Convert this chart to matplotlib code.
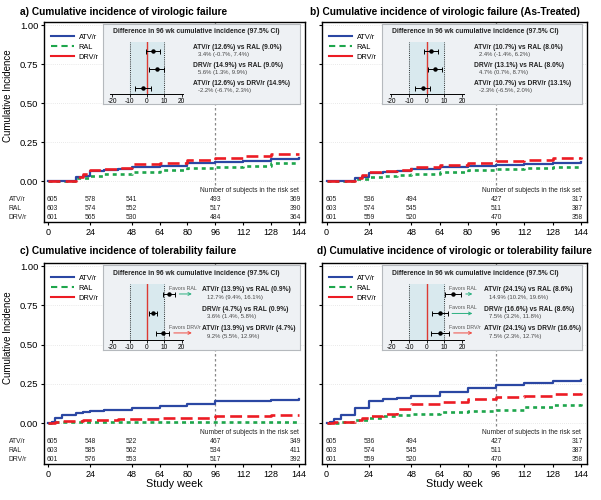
import numpy as np
import matplotlib
matplotlib.use("Agg")
import matplotlib.pyplot as plt
import matplotlib.transforms as mtransforms
from matplotlib.lines import Line2D

plt.rcParams['font.family'] = ['Liberation Sans', 'DejaVu Sans']
plt.rcParams['axes.unicode_minus'] = False

ARMS = ["ATV/r", "RAL", "DRV/r"]
STEP_WEEKS = [0, 2, 4, 8, 16, 20, 24, 32, 40, 48, 64, 80, 96, 112, 128, 144]
X_TICKS = [0, 24, 48, 64, 80, 96, 112, 128, 144]
Y_TICKS = [0.0, 0.25, 0.5, 0.75, 1.0]
RISK_WEEKS = [0, 24, 48, 96, 144]

# a) virologic failure
A_ATV = [0, 0, 0, 0, 0.030, 0.035, 0.065, 0.070, 0.078, 0.090, 0.100, 0.115, 0.126, 0.130, 0.145, 0.148]
A_RAL = [0, 0, 0, 0, 0.020, 0.022, 0.035, 0.045, 0.050, 0.060, 0.070, 0.085, 0.090, 0.100, 0.115, 0.120]
A_DRV = [0, 0, 0, 0, 0.030, 0.045, 0.070, 0.079, 0.086, 0.110, 0.118, 0.135, 0.149, 0.160, 0.175, 0.178]
A_RISK = [[605, 578, 541, 493, 369], [603, 574, 552, 517, 390], [601, 565, 530, 484, 364]]
A_COMPARE = ["ATV/r (12.6%) vs RAL (9.0%)", "DRV/r (14.9%) vs RAL (9.0%)", "ATV/r (12.6%) vs DRV/r (14.9%)"]
A_EST = [3.4, 5.6, -2.2]
A_LO = [-0.7, 1.3, -6.7]
A_HI = [7.4, 9.9, 2.3]
A_FAVORS = [None, None, None]

# b) virologic failure, as-treated
B_ATV = [0, 0, 0, 0, 0.020, 0.025, 0.055, 0.060, 0.068, 0.080, 0.090, 0.100, 0.107, 0.110, 0.120, 0.125]
B_RAL = [0, 0, 0, 0, 0.015, 0.018, 0.030, 0.035, 0.040, 0.050, 0.060, 0.075, 0.080, 0.085, 0.095, 0.100]
B_DRV = [0, 0, 0, 0, 0.020, 0.040, 0.060, 0.065, 0.070, 0.090, 0.105, 0.120, 0.131, 0.140, 0.148, 0.158]
B_RISK = [[605, 536, 494, 427, 317], [603, 574, 545, 511, 387], [601, 559, 520, 470, 358]]
B_COMPARE = ["ATV/r (10.7%) vs RAL (8.0%)", "DRV/r (13.1%) vs RAL (8.0%)", "ATV/r (10.7%) vs DRV/r (13.1%)"]
B_EST = [2.4, 4.7, -2.3]
B_LO = [-1.4, 0.7, -6.5]
B_HI = [6.2, 8.7, 2.0]
B_FAVORS = [None, None, None]

# c) tolerability failure
C_ATV = [0, 0.010, 0.035, 0.050, 0.065, 0.068, 0.080, 0.083, 0.087, 0.095, 0.110, 0.125, 0.139, 0.142, 0.148, 0.152]
C_RAL = [0, 0, 0.005, 0.005, 0.006, 0.006, 0.007, 0.007, 0.008, 0.009, 0.009, 0.009, 0.009, 0.010, 0.010, 0.012]
C_DRV = [0, 0, 0.010, 0.015, 0.015, 0.018, 0.020, 0.020, 0.025, 0.025, 0.030, 0.035, 0.047, 0.047, 0.050, 0.052]
C_RISK = [[605, 548, 522, 467, 349], [603, 585, 562, 534, 411], [601, 576, 553, 517, 392]]
C_COMPARE = ["ATV/r (13.9%) vs RAL (0.9%)", "DRV/r (4.7%) vs RAL (0.9%)", "ATV/r (13.9%) vs DRV/r (4.7%)"]
C_EST = [12.7, 3.6, 9.2]
C_LO = [9.4, 1.4, 5.5]
C_HI = [16.1, 5.8, 12.9]
C_FAVORS = ["Favors RAL", None, "Favors DRV/r"]

# d) virologic or tolerability failure
D_ATV = [0, 0.010, 0.025, 0.053, 0.096, 0.096, 0.142, 0.153, 0.160, 0.170, 0.197, 0.227, 0.241, 0.255, 0.270, 0.276]
D_RAL = [0, 0, 0.003, 0.010, 0.020, 0.022, 0.030, 0.045, 0.050, 0.057, 0.074, 0.080, 0.086, 0.106, 0.115, 0.134]
D_DRV = [0, 0, 0.005, 0.010, 0.020, 0.030, 0.047, 0.060, 0.090, 0.120, 0.138, 0.153, 0.166, 0.174, 0.185, 0.190]
D_RISK = [[605, 536, 494, 427, 317], [603, 574, 545, 511, 387], [601, 559, 520, 470, 358]]
D_COMPARE = ["ATV/r (24.1%) vs RAL (8.6%)", "DRV/r (16.6%) vs RAL (8.6%)", "ATV/r (24.1%) vs DRV/r (16.6%)"]
D_EST = [14.9, 7.5, 7.5]
D_LO = [10.2, 3.2, 2.3]
D_HI = [19.6, 11.8, 12.7]
D_FAVORS = ["Favors RAL", "Favors RAL", "Favors DRV/r"]

BLUE = "#2b47a3"
GREEN = "#1ea64c"
RED = "#ec1c24"
STYLES = [dict(color=BLUE, lw=1.6, ls="-", zorder=3),
          dict(color=GREEN, lw=1.9, ls=(0, (1.5, 1.5)), zorder=2),
          dict(color=RED, lw=1.9, ls=(0, (4.5, 2)), zorder=4)]


def draw_forest(ax, compare, est, lo, hi, favors, text_x, box_h):
    box = ax.inset_axes([0.227, 0.99 - box_h, 0.755, box_h])
    box.set_facecolor("#eef1f4")
    box.set_xticks([]); box.set_yticks([])
    for sp in box.spines.values():
        sp.set_color("#b5b9bd"); sp.set_linewidth(0.8)
    box.text(0.05, 0.9, "Difference in 96 wk cumulative incidence (97.5% CI)",
             transform=box.transAxes, fontsize=4.9, fontweight="bold",
             va="center", ha="left", color="#222222")

    fx = box.inset_axes([0.037, 0.125, 0.37, 0.65])
    fx.patch.set_alpha(0)
    fx.set_xlim(-21, 21); fx.set_ylim(0.65, 3.5)
    for s in ["top", "right", "left"]:
        fx.spines[s].set_visible(False)
    fx.spines["bottom"].set_linewidth(0.7)
    fx.set_yticks([])
    fx.set_xticks([-20, -10, 0, 10, 20])
    fx.tick_params(axis="x", labelsize=4.8, length=2, width=0.6, pad=1)
    fx.axvspan(-10, 10, color="#d9e9ee", zorder=0)
    fx.axvline(-10, color="#333333", ls=(0, (1, 1.2)), lw=0.7)
    fx.axvline(10, color="#333333", ls=(0, (1, 1.2)), lw=0.7)
    fx.axvline(0, color="#dc3a32", lw=1.0, zorder=1.5)

    rows = [3, 2, 1]
    for y, e, l, h in zip(rows, est, lo, hi):
        fx.errorbar(e, y, xerr=[[e - l], [h - e]], fmt="o", ms=2.2,
                    color="black", capsize=1.8, elinewidth=0.7, capthick=0.7)

    tr = mtransforms.blended_transform_factory(box.transAxes, fx.transData)
    for y, c, e, l, h, fav in zip(rows, compare, est, lo, hi, favors):
        box.text(text_x, y + 0.22, c, transform=tr, fontsize=4.8,
                 fontweight="bold", va="center", ha="left", color="#222222")
        box.text(text_x + 0.025, y - 0.18, f"{e}% ({l}%, {h}%)", transform=tr,
                 fontsize=4.2, va="center", ha="left", color="#444444")
        if fav is not None:
            col = "#2bb07f" if "RAL" in fav else "#ee4a40"
            fx.annotate("", xy=(27.5, y), xytext=(max(h + 1, 12.5), y),
                        arrowprops=dict(arrowstyle="->", color=col, lw=0.7,
                                        mutation_scale=5),
                        annotation_clip=False)
            fx.text(12.5, y + 0.3, fav, fontsize=3.8, color="#555555",
                    va="center", ha="left", clip_on=False)


def draw_panel(rect, title, title_xy, curves, risk, compare, est, lo, hi,
               favors, left_side, bottom_row, text_x, box_h):
    ax = fig.add_axes(rect)
    fig.text(title_xy[0] / 601, 1 - title_xy[1] / 500, title, fontsize=7.3,
             fontweight="bold", va="center", ha="left")
    for vals, st in zip(curves, STYLES):
        ax.step(STEP_WEEKS, vals, where="post", **st)
    ax.plot([96, 96], [-0.02, 1.03], color="#888888", ls=(0, (2, 2)), lw=0.9,
            zorder=1)
    ax.set_xlim(-2.5, 147.5)
    ax.set_ylim(-0.26, 1.02)
    ax.set_xticks(X_TICKS)
    ax.set_yticks(Y_TICKS)
    ax.yaxis.grid(True, color="#d5d5d5", ls=(0, (1, 2)), lw=0.5)
    ax.tick_params(axis="x", labelsize=6.5, length=2.5, pad=1.5)
    ax.tick_params(axis="y", labelsize=6.8, length=2.5, pad=1.5)
    if left_side:
        ax.set_yticklabels([f"{v:.2f}" for v in Y_TICKS])
        ax.set_ylabel("Cumulative Incidence", fontsize=7)
        ax.yaxis.set_label_coords(-0.12, 0.63)
    else:
        ax.set_yticklabels([])
    if bottom_row:
        ax.set_xlabel("Study week", fontsize=7.8, labelpad=0.5)
    for sp in ax.spines.values():
        sp.set_linewidth(1.0)

    ax.text(144, -0.058, "Number of subjects in the risk set", fontsize=4.8,
            ha="right", va="center", color="#222222")
    for r, (arm, counts) in enumerate(zip(ARMS, risk)):
        y = -0.115 - 0.057 * r
        if left_side:
            ax.text(-0.135, y, arm, transform=ax.get_yaxis_transform(),
                    fontsize=4.9, ha="left", va="center", color="#222222")
        for i, (w, n) in enumerate(zip(RISK_WEEKS, counts)):
            xx = 2.5 if i == 0 else (142 if w == 144 else w)
            ax.text(xx, y, str(n), fontsize=4.9, ha="center", va="center",
                    color="#222222")

    handles = [Line2D([], [], color=BLUE, lw=1.5),
               Line2D([], [], color=GREEN, lw=1.5, ls=(0, (3, 2))),
               Line2D([], [], color=RED, lw=1.5)]
    ax.legend(handles, ARMS, loc="upper left", bbox_to_anchor=(0.0, 0.975),
              frameon=False, fontsize=5.3, handlelength=3.2, labelspacing=0.4,
              handletextpad=0.6, borderaxespad=0.5)
    draw_forest(ax, compare, est, lo, hi, favors, text_x, box_h)
    return ax


fig = plt.figure(figsize=(6.01, 5.0), dpi=100)

draw_panel([0.0732, 0.556, 0.434, 0.40],
           "a) Cumulative incidence of virologic failure", (20, 12),
           [A_ATV, A_RAL, A_DRV], A_RISK, A_COMPARE, A_EST, A_LO, A_HI,
           A_FAVORS, True, False, 0.457, 0.40)
draw_panel([0.536, 0.556, 0.441, 0.40],
           "b) Cumulative incidence of virologic failure (As-Treated)", (310, 12),
           [B_ATV, B_RAL, B_DRV], B_RISK, B_COMPARE, B_EST, B_LO, B_HI,
           B_FAVORS, False, False, 0.457, 0.40)
draw_panel([0.0732, 0.072, 0.434, 0.402],
           "c) Cumulative incidence of tolerability failure", (20, 251),
           [C_ATV, C_RAL, C_DRV], C_RISK, C_COMPARE, C_EST, C_LO, C_HI,
           C_FAVORS, True, True, 0.5, 0.425)
draw_panel([0.536, 0.072, 0.441, 0.402],
           "d) Cumulative incidence of virologic or tolerability failure", (317, 251),
           [D_ATV, D_RAL, D_DRV], D_RISK, D_COMPARE, D_EST, D_LO, D_HI,
           D_FAVORS, False, True, 0.51, 0.425)

fig.savefig("out.png", dpi=100)
